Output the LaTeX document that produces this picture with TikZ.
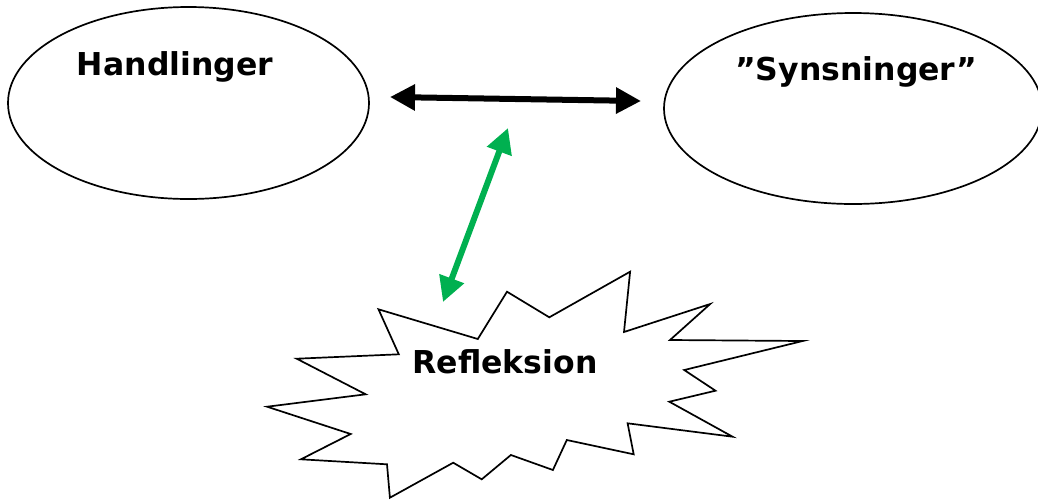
\documentclass[tikz,border=0pt]{standalone}
\usepackage{fontspec}
\setmainfont{DejaVu Sans}
\usetikzlibrary{arrows.meta,shapes.geometric}
\definecolor{officegreen}{HTML}{00B050}
\begin{document}
\begin{tikzpicture}[x=1pt,y=-1pt,
  bubble/.style={draw=black,line width=1.7pt,ellipse,inner sep=0pt},
  title/.style={font=\bfseries\fontsize{31.5}{38}\selectfont,anchor=base,inner sep=0pt},
  twoway/.style={line width=6pt,{Triangle[length=25pt,width=25pt]}-{Triangle[length=25pt,width=25pt]}}]
\useasboundingbox (0,0) rectangle (1038,499);

% the two ellipses
\node[bubble,minimum width=361pt,minimum height=192pt] (act) at (188.5,103) {};
\node[bubble,minimum width=378pt,minimum height=191pt] (view) at (853,108.5) {};

% the starburst
\draw[line width=1.7pt,line join=miter,fill=white]
  (378.5,309.3) -- (477.8,339) -- (507,291.7) -- (549.3,317.3) -- (630.1,271.7)
  -- (624,332) -- (710.2,304) -- (670,340) -- (802.7,341) -- (684.2,370)
  -- (715.5,390.7) -- (669.3,401.7) -- (732.6,436.7) -- (627.6,423.3)
  -- (633.7,454.3) -- (566.8,440) -- (552.9,470) -- (510.9,455)
  -- (481.7,479.3) -- (453.2,462.7) -- (389.9,497.7) -- (387,464.3)
  -- (300.9,459.3) -- (350.7,434) -- (267.1,406.7) -- (365.7,394.3)
  -- (296.7,358.7) -- (398.8,354.3) -- cycle;

% labels
\node[title] (tact) at (175,75) {Handlinger};
\node[title] (tview) at (856,80) {”Synsninger”};
\node[title] (trefl) at (505,373) {Refleksion};

% arrow ends
\coordinate (hl) at (390,97);
\coordinate (hr) at (641,101);
\coordinate (gt) at (508,128);
\coordinate (gb) at (443,302);

\draw[twoway,black] (hl) -- (hr);
\draw[twoway,officegreen] (gt) -- (gb);
\end{tikzpicture}
\end{document}
